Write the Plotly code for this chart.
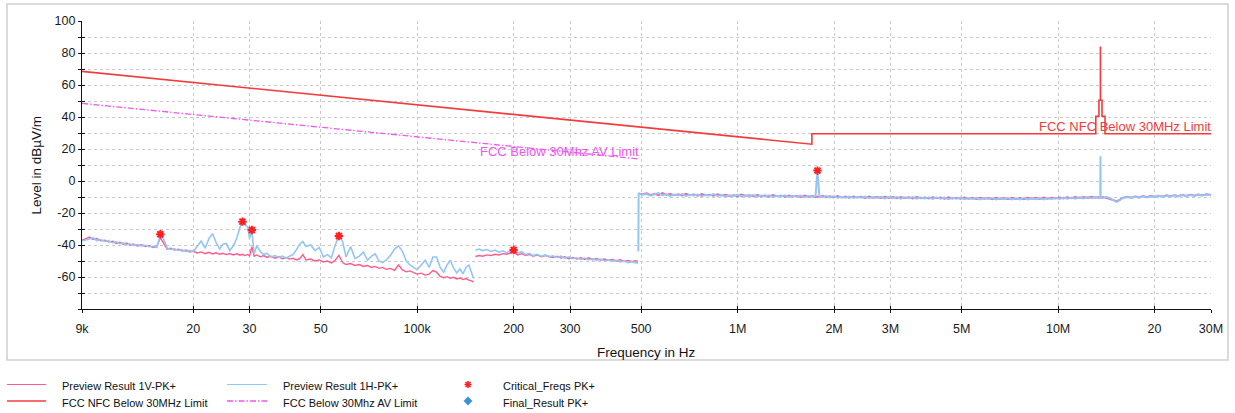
import math
import plotly.graph_objects as go

# ---------------- data ----------------
# Segment A: 9 kHz - 150 kHz (frequencies in kHz, levels in dBuV/m)
freq_a_khz = [9.0, 9.25, 9.5, 9.75, 10.0, 10.3, 10.6, 10.9, 11.2, 11.5, 11.8, 12.1, 12.4, 12.7, 13.0,
              13.4, 13.8, 14.2, 14.6, 15.0, 15.4, 15.8, 16.2, 16.6, 17.0, 17.5, 18.0, 18.5, 19.0, 19.5,
              20.0, 20.6, 21.2, 21.8, 22.4, 23.0, 23.6, 24.2, 24.8, 25.4, 26.0, 26.7, 27.4, 28.0, 28.5,
              29.0, 29.6, 30.0, 30.5, 31.0, 31.6, 32.4, 33.2, 34.0, 35.0, 36.0, 37.0, 38.0, 39.0,
              40.0, 41.0, 42.0, 43.0, 44.0, 45.0, 46.5, 48.0, 49.5, 51.0, 52.5, 54.0, 55.5, 57.0, 58.5,
              60.0, 62.0, 64.0, 66.0, 68.0, 70.0, 72.0, 74.0, 76.0, 78.0, 80.0, 82.5, 85.0, 87.5, 90.0,
              92.5, 95.0, 97.5, 100, 103, 106, 109, 112, 115, 118, 121, 124, 127, 130, 133, 136, 139,
              142, 145, 148, 150]
v1_a = [-37.0, -36.2, -35.0, -36.5, -36.0, -37.4, -37.0, -38.2, -37.6, -39.0, -38.3, -39.5, -38.8, -40.2, -39.4,
        -40.6, -39.9, -41.0, -40.4, -41.6, -41.0, -35.5, -39.0, -42.6, -42.0, -43.2, -42.6, -43.8, -43.1, -44.4,
        -43.8, -45.0, -44.3, -45.4, -44.6, -45.6, -44.9, -45.8, -45.2, -46.0, -45.3, -46.2, -45.5, -46.4, -45.8,
        -46.6, -45.9, -46.8, -41.0, -47.0, -46.2, -47.4, -46.6, -47.8, -47.0, -48.2, -47.4, -48.6, -47.8,
        -48.8, -48.3, -49.3, -48.6, -46.0, -49.4, -48.8, -50.0, -49.3, -50.6, -50.0, -51.2, -49.5, -46.5, -51.0,
        -52.2, -51.6, -52.8, -52.2, -53.4, -52.8, -54.0, -53.4, -54.6, -54.0, -55.2, -54.6, -55.8, -52.5, -55.6,
        -56.8, -56.2, -57.4, -58.2, -57.6, -58.8, -58.2, -56.0, -57.0, -59.6, -60.4, -59.8, -60.8, -60.2, -61.2, -60.6, -61.6,
        -61.0, -62.0, -62.4, -63.2]
h1_a = [-37.5, -36.8, -36.0, -35.6, -37.2, -36.6, -37.8, -37.4, -38.6, -38.1, -39.2, -38.7, -39.8, -39.3, -40.1,
        -39.8, -40.6, -40.2, -41.1, -40.8, -41.5, -33.8, -36.5, -42.0, -42.8, -42.4, -43.4, -43.0, -44.0, -43.5,
        -44.2, -40.5, -37.5, -42.0, -36.0, -33.0, -38.5, -42.5, -39.5, -39.0, -43.5, -40.5, -35.5, -29.0, -25.6,
        -27.0, -28.8, -36.0, -30.8, -45.5, -40.5, -44.0, -46.0, -45.2, -47.5, -46.6, -47.8, -47.0, -48.2,
        -47.0, -46.0, -43.0, -39.5, -37.8, -41.0, -39.8, -43.5, -41.5, -47.5, -46.0, -48.0, -40.0, -34.6, -37.5,
        -47.5, -41.0, -48.5, -47.0, -44.5, -49.5, -47.0, -45.5, -50.0, -51.0, -49.5, -46.5, -42.5, -40.5, -44.0,
        -50.0, -52.5, -54.0, -55.5, -52.5, -49.5, -54.0, -47.5, -47.5, -54.0, -57.0, -52.5, -49.5, -54.5, -57.5, -55.0, -58.0,
        -54.0, -52.5, -57.0, -61.0]

# Segment B: 150 kHz - 490 kHz
freq_b_khz = [152, 156, 160, 165, 170, 175, 180, 185, 190, 195, 200, 206, 212, 218, 224, 230, 237, 244, 251,
              258, 265, 273, 281, 289, 297, 306, 315, 324, 333, 343, 353, 363, 373, 384, 395, 406, 418, 430,
              442, 455, 468, 480, 489]
v1_b = [-47.2, -46.6, -47.0, -46.2, -46.6, -45.8, -46.2, -45.4, -45.8, -44.9, -44.5, -46.2, -45.4, -46.6, -45.8,
        -47.0, -46.2, -47.4, -46.6, -47.2, -47.8, -47.0, -48.2, -47.4, -48.6, -47.8, -48.8, -48.0, -49.0, -48.0,
        -49.2, -48.4, -49.4, -48.8, -49.6, -49.0, -50.0, -49.2, -50.2, -49.6, -50.4, -49.8, -50.2]
h1_b = [-43.3, -42.5, -43.5, -42.8, -44.0, -43.2, -44.5, -43.6, -44.8, -43.8, -43.3, -45.0, -44.2, -46.0, -45.2,
        -46.6, -45.8, -47.0, -46.2, -47.4, -46.8, -47.8, -47.0, -48.2, -47.4, -48.6, -48.0, -49.0, -48.2, -49.2,
        -48.6, -49.6, -48.8, -49.8, -49.2, -50.2, -49.6, -50.6, -50.0, -51.0, -50.4, -51.2, -51.0]

# Segment C: 490 kHz - 30 MHz
freq_c_khz = [491, 505, 520, 535, 550, 566, 582, 599, 616, 634, 652, 671, 690, 710, 730, 751, 773, 795, 818, 842,
              866, 891, 917, 943, 970, 998, 1027, 1057, 1087, 1119, 1151, 1184, 1218, 1253, 1289, 1326, 1365,
              1404, 1445, 1486, 1529, 1573, 1619, 1665, 1713, 1750, 1775, 1800, 1840, 1890, 1940, 1990, 2050,
              2110, 2170, 2230, 2300, 2360, 2430, 2500, 2570, 2650, 2720, 2800, 2880, 2970, 3050, 3140, 3230,
              3330, 3420, 3520, 3620, 3730, 3840, 3950, 4060, 4180, 4300, 4420, 4550, 4680, 4820, 4960, 5100,
              5250, 5400, 5560, 5720, 5880, 6050, 6230, 6410, 6590, 6780, 6980, 7180, 7390, 7600, 7820, 8050,
              8280, 8520, 8770, 9020, 9280, 9550, 9830, 10100, 10400, 10700, 11000, 11300, 11700, 12000, 12400,
              12700, 13100, 13400, 13540, 13560, 13580, 13800, 14200, 14600, 15000, 15200, 15500, 15900, 16400,
              16900, 17400, 17900, 18400, 18900, 19500, 20000, 20600, 21200, 21800, 22400, 23100, 23700, 24400,
              25100, 25900, 26600, 27400, 28200, 29000, 30000]
v1_c = [-7.8, -8.4, -7.6, -8.8, -8.0, -8.9, -7.5, -8.6, -8.1, -9.0, -8.3, -9.1, -8.0, -8.9, -8.4, -9.2, -8.1, -9.0,
        -8.5, -9.3, -8.2, -9.1, -8.6, -9.4, -8.8, -9.5, -8.4, -9.3, -8.9, -9.6, -8.7, -9.5, -9.0, -9.8, -8.8, -9.6,
        -9.2, -9.9, -9.0, -9.8, -9.3, -10.0, -9.1, -9.9, -9.4, -10.1, -9.6, -10.0, -9.2, -10.2, -9.5, -10.3, -9.4,
        -10.4, -9.7, -10.5, -9.6, -10.4, -9.8, -10.6, -9.7, -10.5, -9.9, -10.7, -9.8, -10.6, -10.0, -10.8, -9.9,
        -10.7, -10.1, -10.9, -10.0, -10.8, -10.2, -11.0, -10.1, -10.9, -10.3, -11.1, -10.2, -11.0, -10.4, -11.2,
        -10.3, -11.1, -10.5, -11.3, -10.4, -11.2, -10.6, -11.4, -10.5, -11.3, -10.6, -11.4, -10.5, -11.3, -10.6,
        -11.4, -10.4, -11.2, -10.5, -11.3, -10.3, -11.1, -10.4, -11.0, -10.2, -10.9, -10.1, -10.8, -10.0, -10.7,
        -9.9, -10.6, -9.8, -10.5, -10.0, -10.4, -10.2, -10.5, -9.9, -10.6, -11.2, -12.0, -12.6, -11.9, -10.5, -9.8,
        -10.4, -9.6, -10.2, -9.4, -10.0, -9.2, -9.9, -9.1, -9.7, -8.9, -9.6, -8.8, -9.4, -8.6, -9.3, -8.5, -9.1,
        -8.4, -9.0, -8.3, -8.7]
h1_c = [-8.0, -8.6, -8.2, -9.2, -8.4, -7.6, -8.8, -8.3, -9.4, -8.5, -9.0, -8.2, -9.3, -8.6, -9.1, -8.4, -9.5, -8.7,
        -9.0, -8.2, -9.4, -8.8, -9.6, -8.9, -9.3, -8.6, -9.7, -9.0, -9.5, -8.8, -9.8, -9.1, -9.6, -8.9, -9.9, -9.2,
        -9.7, -9.0, -10.0, -9.3, -9.8, -9.1, -10.1, -9.4, -9.9, -9.5, 6.3, -9.8, -10.2, -9.4, -10.3, -9.6, -10.5,
        -9.8, -10.4, -9.7, -10.6, -9.9, -10.5, -9.8, -10.8, -10.0, -10.6, -9.9, -10.9, -10.1, -10.7, -10.0, -11.0,
        -10.2, -10.8, -10.1, -11.1, -10.3, -10.9, -10.2, -11.2, -10.4, -11.0, -10.3, -11.3, -10.5, -11.1, -10.4,
        -11.4, -10.6, -11.2, -10.5, -11.5, -10.7, -11.3, -10.6, -11.6, -10.8, -11.4, -10.7, -11.6, -10.8, -11.5,
        -10.7, -11.6, -10.8, -11.4, -10.6, -11.5, -10.7, -11.3, -10.5, -11.2, -10.4, -11.1, -10.3, -11.0, -10.2,
        -10.9, -10.1, -10.8, -10.0, -10.7, -10.2, 15.5, -10.3, -10.6, -10.0, -11.0, -12.2, -13.0, -12.3, -10.8,
        -10.0, -10.6, -9.8, -10.4, -9.6, -10.3, -9.5, -10.1, -9.3, -9.9, -9.1, -9.8, -9.0, -9.6, -8.8, -9.5, -8.7,
        -9.3, -8.6, -9.2, -8.5, -8.8]
h1_c_start_khz = 490
h1_c_start_level = -44.0

# Critical frequencies (PK+)
crit_freq_khz = [15.8, 28.5, 30.5, 57.0, 200, 1775]
crit_level = [-33.3, -25.4, -30.6, -34.4, -43.1, 6.5]

# Limits
nfc_freq_khz = [9, 1705, 1705, 13110, 13110, 13410, 13410, 13553, 13553, 13567, 13567, 13710, 13710,
                14010, 14010, 30000]
nfc_level = [68.5, 23.0, 29.5, 29.5, 40.5, 40.5, 50.5, 50.5, 84.0, 84.0, 50.5, 50.5, 40.5, 40.5, 29.5, 29.5]
av_freq_khz = [9, 490]
av_level = [48.5, 13.8]

x_tick_vals = [9e3, 2e4, 3e4, 5e4, 1e5, 2e5, 3e5, 5e5, 1e6, 2e6, 3e6, 5e6, 1e7, 2e7, 3e7]
x_tick_text = ["9k", "20", "30", "50", "100k", "200", "300", "500", "1M", "2M", "3M", "5M", "10M", "20", "30M"]
y_tick_vals = [-60, -40, -20, 0, 20, 40, 60, 80, 100]
y_tick_text = ["-60", "-40", "-20", "0", "20", "40", "60", "80", "100"]

legend_names = ["Preview Result 1V-PK+", "Preview Result 1H-PK+", "Critical_Freqs PK+",
                "FCC NFC Below 30MHz Limit", "FCC Below 30Mhz AV Limit", "Final_Result PK+"]

for f, a, b in [(freq_a_khz, v1_a, h1_a), (freq_b_khz, v1_b, h1_b), (freq_c_khz, v1_c, h1_c)]:
    assert len(f) == len(a) == len(b), (len(f), len(a), len(b))

# ---------------- layout helpers ----------------
W, H = 1235, 413
# plot area in window pixels: x 82..1211, y 21..309
PX0, PX1, PY0, PY1 = 82, 1211, 21, 309
L, T, R, B = PX0, PY0, W - PX1, H - PY1
PW, PH = W - L - R, H - T - B
X_LO, X_HI = math.log10(9e3), math.log10(3e7)
Y_LO, Y_HI = -80, 100


def px(xp):
    """window pixel x -> paper x"""
    return (xp - PX0) / PW


def py(yp):
    """window pixel y -> paper y"""
    return (PY1 - yp) / PH


def join(*segs):
    xs, ys = [], []
    for f, v in segs:
        if xs:
            xs.append(None)
            ys.append(None)
        xs += [k * 1e3 for k in f]
        ys += list(v)
    return xs, ys


C_V = "#ff5a8c"
C_H = "#93c6f6"
C_NFC = "#f23c3c"
C_AV = "#f055f0"
C_STAR = "#ff1f1f"
C_FINAL = "#3b8fdb"
FONT = "Liberation Sans, Arial, sans-serif"

red_ab_x, red_ab_y = join((freq_a_khz, v1_a), (freq_b_khz, v1_b))
blue_ab_x, blue_ab_y = join((freq_a_khz, h1_a), (freq_b_khz, h1_b))
red_c_x, red_c_y = join((freq_c_khz, v1_c))
blue_c_x, blue_c_y = join(([h1_c_start_khz] + freq_c_khz, [h1_c_start_level] + h1_c))

fig = go.Figure()
fig.add_trace(go.Scatter(x=[f * 1e3 for f in nfc_freq_khz], y=nfc_level, mode="lines",
                         line=dict(color=C_NFC, width=1.6), name=legend_names[3]))
fig.add_trace(go.Scatter(x=[f * 1e3 for f in av_freq_khz], y=av_level, mode="lines",
                         line=dict(color=C_AV, width=1.3, dash="6px,2px,1.5px,2px"), name=legend_names[4]))
fig.add_trace(go.Scatter(x=red_ab_x, y=red_ab_y, mode="lines", line=dict(color=C_V, width=1.4),
                         name=legend_names[0]))
fig.add_trace(go.Scatter(x=red_c_x, y=red_c_y, mode="lines", line=dict(color=C_V, width=1.8),
                         name=legend_names[0]))
fig.add_trace(go.Scatter(x=blue_ab_x, y=blue_ab_y, mode="lines", line=dict(color=C_H, width=1.6),
                         name=legend_names[1]))
fig.add_trace(go.Scatter(x=blue_c_x, y=blue_c_y, mode="lines", line=dict(color=C_H, width=2.0),
                         name=legend_names[1]))
fig.add_trace(go.Scatter(x=[f * 1e3 for f in crit_freq_khz], y=crit_level, mode="markers",
                         marker=dict(symbol="asterisk-open", size=7, color=C_STAR,
                                     line=dict(color=C_STAR, width=2)),
                         name=legend_names[2]))

# helper trace for crossing tick marks
fig.add_trace(go.Scatter(x=[9e3], y=[None], xaxis="x2", yaxis="y2", mode="markers", hoverinfo="skip"))

grid = "#c9c9c9"
fig.update_layout(
    width=W, height=H, margin=dict(l=L, r=R, t=T, b=B),
    paper_bgcolor="white", plot_bgcolor="white", showlegend=False,
    font=dict(family=FONT, color="#1a1a1a"),
    xaxis=dict(type="log", range=[X_LO, X_HI], tickvals=x_tick_vals, ticktext=x_tick_text,
               showgrid=True, gridcolor=grid, griddash="dot", gridwidth=1,
               showline=True, linecolor="#111", linewidth=1.3, ticks="outside", ticklen=3,
               tickcolor="#111", tickwidth=1.2, tickfont=dict(size=12.5, family=FONT, color="#1a1a1a"),
               ticklabelstandoff=5, zeroline=False),
    yaxis=dict(range=[Y_LO, Y_HI], tickmode="array", tickvals=y_tick_vals, ticktext=y_tick_text,
               showgrid=True, gridcolor=grid, griddash="dot",
               minor=dict(tickmode="linear", dtick=10, tick0=0, showgrid=True, gridcolor=grid, griddash="dot",
                          ticks="outside", ticklen=3, tickcolor="#111", tickwidth=1.2),
               showline=True, linecolor="#111", linewidth=1.3, ticks="outside", ticklen=3,
               tickcolor="#111", tickwidth=1.2, tickfont=dict(size=12.5, family=FONT, color="#1a1a1a"),
               zeroline=False),
    xaxis2=dict(type="log", range=[X_LO, X_HI], overlaying="x", anchor="y2", tickvals=x_tick_vals,
                showticklabels=False, ticks="inside", ticklen=3, tickcolor="#111", tickwidth=1.2,
                showgrid=False, showline=False, zeroline=False),
    yaxis2=dict(range=[Y_LO, Y_HI], overlaying="y", anchor="x2", side="left", dtick=10, tick0=0,
                showticklabels=False, ticks="inside", ticklen=3, tickcolor="#111", tickwidth=1.2,
                showgrid=False, showline=False, zeroline=False),
)

# frame and legend swatches (window pixel positions -> paper)
shapes = [dict(type="rect", xref="paper", yref="paper", x0=px(7), x1=px(1228), y0=py(4), y1=py(360),
               line=dict(color="#cfcfcf", width=1.5), layer="below")]
swatches = [(7, 46, 384.5, C_V, "solid", 1.2), (227, 267, 384.5, C_H, "solid", 1.2),
            (7, 46, 401, C_NFC, "solid", 1.6), (227, 267, 401, C_AV, "6px,2px,1.5px,2px", 1.3)]
for x0, x1, yy, col, dash, w in swatches:
    shapes.append(dict(type="line", xref="paper", yref="paper", x0=px(x0), x1=px(x1), y0=py(yy), y1=py(yy),
                       line=dict(color=col, width=w, dash=dash)))
# asterisk swatch for Critical_Freqs
cx, cy, r = 468, 384.5, 3.5
for dx, dy in [(r, 0), (0, r), (r * 0.72, r * 0.72), (r * 0.72, -r * 0.72)]:
    shapes.append(dict(type="line", xref="paper", yref="paper", x0=px(cx - dx), x1=px(cx + dx),
                       y0=py(cy - dy), y1=py(cy + dy), line=dict(color=C_STAR, width=1.6)))
# diamond swatch for Final_Result
dx0, dy0, d = 468, 401, 4.2
shapes.append(dict(type="path", xref="paper", yref="paper",
                   path=f"M {px(dx0)} {py(dy0 - d)} L {px(dx0 + d)} {py(dy0)} L {px(dx0)} {py(dy0 + d)} "
                        f"L {px(dx0 - d)} {py(dy0)} Z",
                   fillcolor=C_FINAL, line=dict(color=C_FINAL, width=0.5)))
fig.update_layout(shapes=shapes)

ann = []
legend_pos = [(60, 386), (281, 386), (501, 386), (60, 402.5), (281, 402.5), (501, 402.5)]
for i, (xx, yy) in enumerate(legend_pos):
    ann.append(dict(text=legend_names[i], xref="paper", yref="paper", x=px(xx), y=py(yy), xanchor="left",
                    yanchor="middle", showarrow=False, font=dict(size=11, family=FONT, color="#111")))
ann.append(dict(text="Frequency in Hz", xref="paper", yref="paper", x=px(646), y=py(352), xanchor="center",
                yanchor="middle", showarrow=False, font=dict(size=13.5, family=FONT, color="#111")))
ann.append(dict(text="Level in dBµV/m", xref="paper", yref="paper", x=px(35.5), y=py(165), xanchor="center",
                yanchor="middle", textangle=-90, showarrow=False, font=dict(size=13.5, family=FONT, color="#111")))
ann.append(dict(text="FCC NFC Below 30MHz Limit", xref="paper", yref="paper", x=px(1213), y=py(126),
                xanchor="right", yanchor="middle", showarrow=False, font=dict(size=13, family=FONT, color=C_NFC)))
ann.append(dict(text="FCC Below 30Mhz AV Limit", xref="paper", yref="paper", x=px(641), y=py(151),
                xanchor="right", yanchor="middle", showarrow=False, font=dict(size=13, family=FONT, color=C_AV)))
fig.update_layout(annotations=ann)

# remove the default 8px page margin so the figure fills the window exactly
fig.write_html("out.html", config={"displayModeBar": False},
               post_script="document.body.style.margin='0px';")
